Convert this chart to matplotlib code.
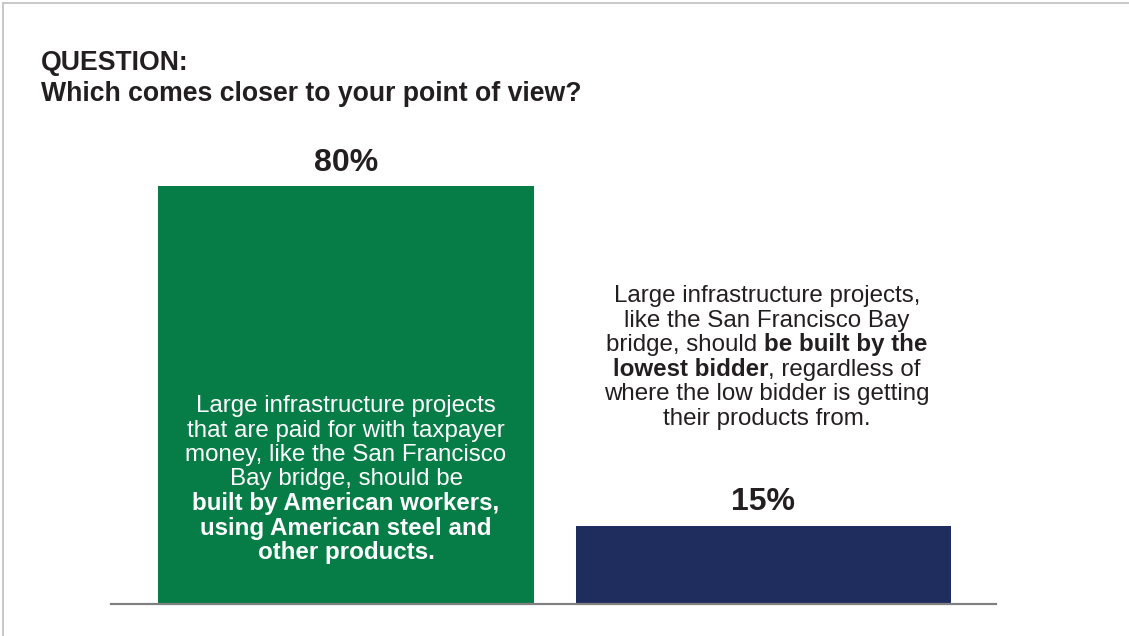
import matplotlib
matplotlib.use("Agg")
import matplotlib.pyplot as plt
from matplotlib.lines import Line2D

# ---- data ----
categories = ["American workers & steel", "Lowest bidder"]
values = [80, 15]
bar_colors = ["#067D46", "#1F2D5E"]

title_lines = ["QUESTION:", "Which comes closer to your point of view?"]

# caption lines: list of (text, bold) segments
green_caption = [
    [("Large infrastructure projects", False)],
    [("that are paid for with taxpayer", False)],
    [("money, like the San Francisco", False)],
    [("Bay bridge, should be", False)],
    [("built by American workers,", True)],
    [("using American steel and", True)],
    [("other products.", True)],
]
navy_caption = [
    [("Large infrastructure projects,", False)],
    [("like the San Francisco Bay", False)],
    [("bridge, should", False), ("be built by the", True)],
    [("lowest bidder", True), (", regardless of", False)],
    [("where the low bidder is getting", False)],
    [("their products from.", False)],
]

FONT = "Liberation Sans"
TEXT_DARK = "#231F20"
W, H = 1129, 636

fig = plt.figure(figsize=(W / 100, H / 100), dpi=100)
fig.patch.set_facecolor("white")


def fx(px):
    return px / W


def fy(py):
    return 1 - py / H


# frame lines (top and left)
fig.add_artist(Line2D([fx(3), fx(W)], [fy(3), fy(3)], color="#C8C8C8", lw=1.4))
fig.add_artist(Line2D([fx(3), fx(3)], [fy(3), fy(H)], color="#C8C8C8", lw=1.4))

# ---- bars ----
ax_left, ax_right, ax_bottom, ax_top = 111, 996, 604, 100
ax = fig.add_axes([fx(ax_left), fy(ax_bottom), (ax_right - ax_left) / W,
                   (ax_bottom - ax_top) / H])
x = list(range(len(values)))
ax.bar(x, values, width=0.9, color=bar_colors, zorder=2)
ax.set_xlim(-0.563, 1.557)
ax.set_ylim(0, 80 * (ax_bottom - ax_top) / 418)
for side in ("top", "right", "left"):
    ax.spines[side].set_visible(False)
ax.spines["bottom"].set_color("#808080")
ax.spines["bottom"].set_linewidth(1.6)
ax.spines["bottom"].set_zorder(3)
ax.set_xticks([])
ax.set_yticks([])
ax.patch.set_alpha(0)

for xi, v in zip(x, values):
    ax.annotate(f"{v}%", (xi, v), xytext=(0, 11), textcoords="offset points",
                ha="center", va="baseline", fontsize=23, fontweight="bold",
                family=FONT, color=TEXT_DARK)

# ---- title ----
fig.text(fx(41), fy(70.5), title_lines[0], fontsize=19.2, fontweight="bold",
         family=FONT, color=TEXT_DARK, va="baseline", ha="left")
fig.text(fx(41), fy(101), title_lines[1], fontsize=19.2, fontweight="bold",
         family=FONT, color=TEXT_DARK, va="baseline", ha="left")

# ---- captions with mixed weights ----
renderer = fig.canvas.get_renderer()


def text_width(s, bold, size):
    t = fig.text(0, 0, s, fontsize=size, fontweight="bold" if bold else "normal",
                 family=FONT)
    w = t.get_window_extent(renderer).width
    t.remove()
    return w


def rich_block(lines, cx, base0, dy, size, color):
    for i, segs in enumerate(lines):
        widths = []
        for j, (s, b) in enumerate(segs):
            w = text_width(s, b, size)
            widths.append(w)
        gaps = []
        for j in range(len(segs) - 1):
            nxt = segs[j + 1][0]
            if nxt.startswith(","):
                gaps.append(0.0)
            else:
                sp = text_width("x x", False, size) - text_width("xx", False, size)
                gaps.append(sp)
        total = sum(widths) + sum(gaps)
        xpos = cx - total / 2
        for j, (s, b) in enumerate(segs):
            fig.text(fx(xpos), fy(base0 + i * dy), s, fontsize=size,
                     fontweight="bold" if b else "normal", family=FONT,
                     color=color, ha="left", va="baseline")
            xpos += widths[j] + (gaps[j] if j < len(gaps) else 0)


rich_block(green_caption, 346, 412, 24.5, 17.4, "white")
rich_block(navy_caption, 767, 302, 24.6, 17.4, TEXT_DARK)

fig.savefig("out.png", dpi=100, facecolor="white")
